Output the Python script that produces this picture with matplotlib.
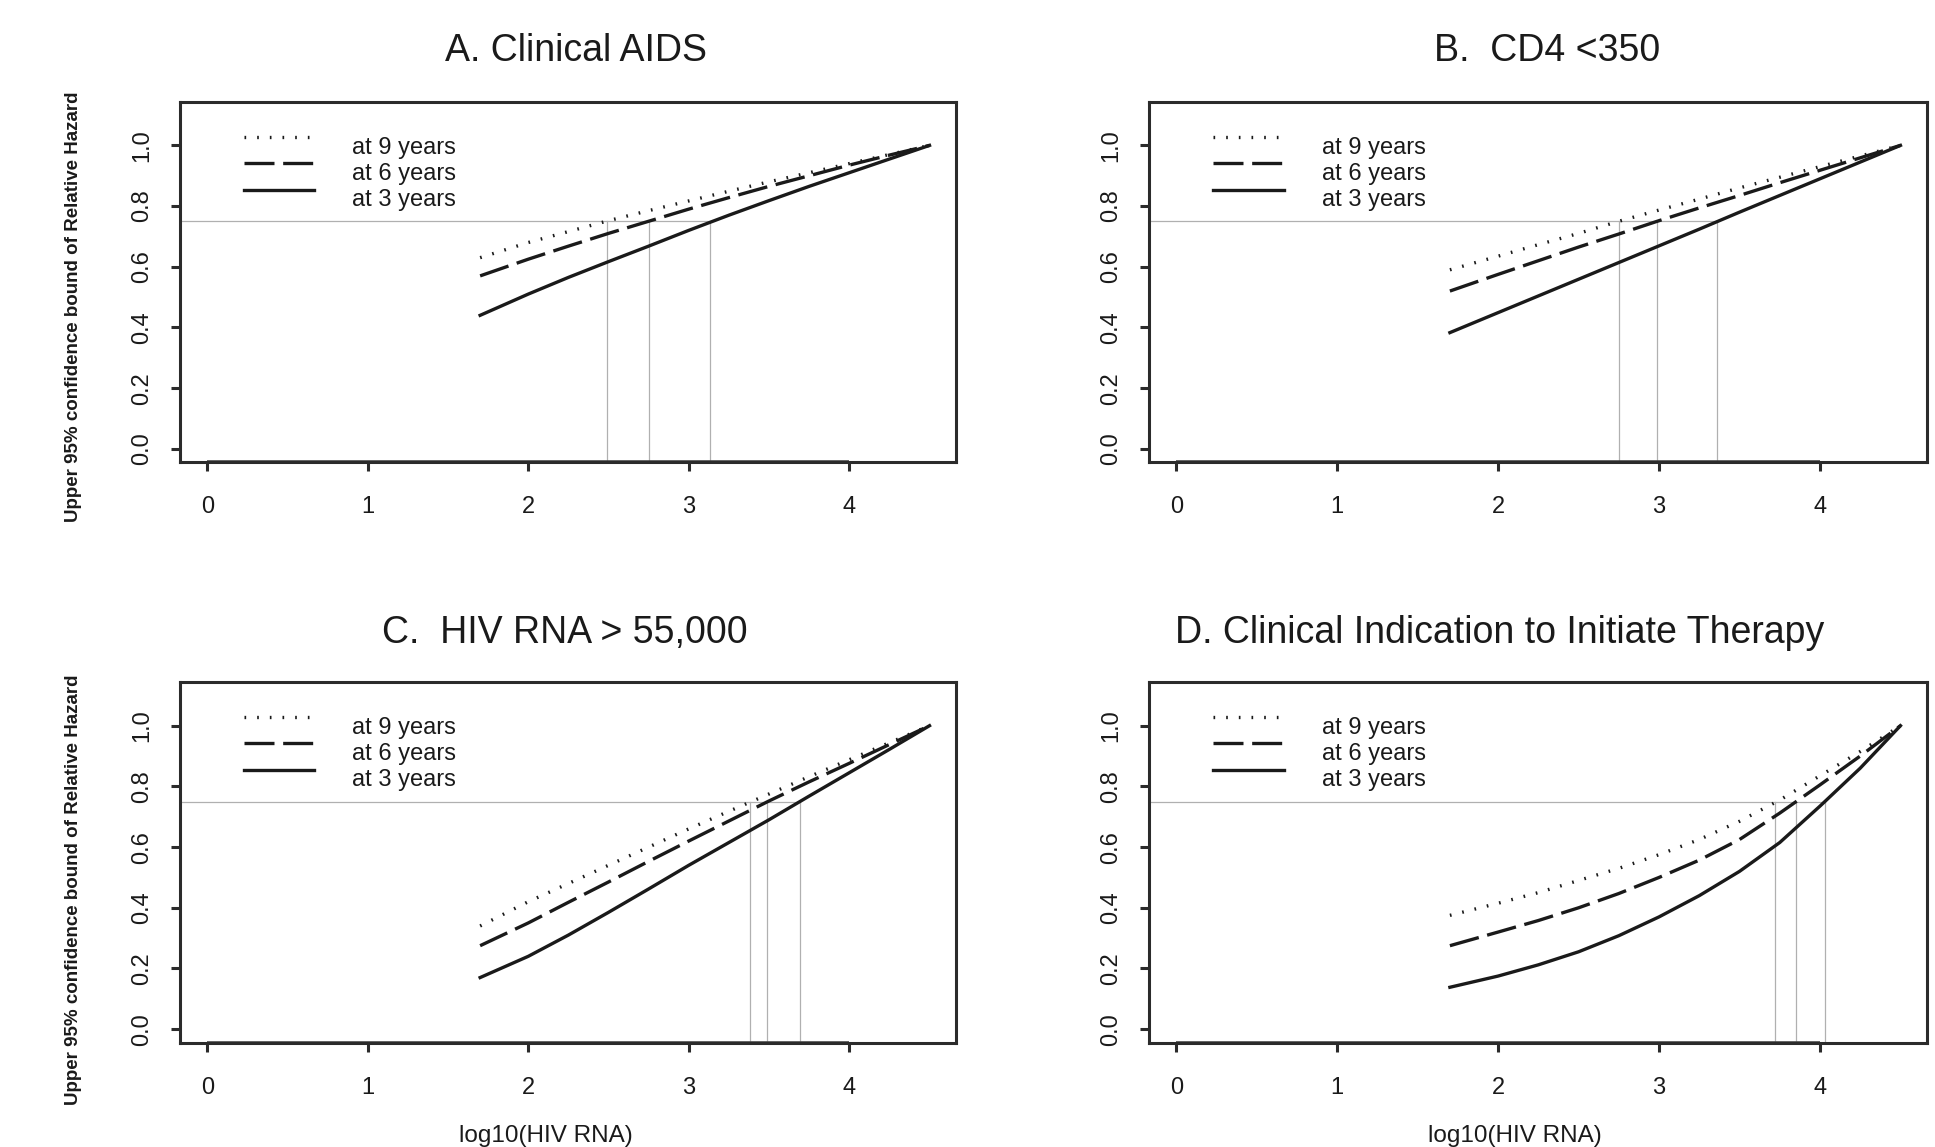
"""Upper 95% bound of relative hazard vs log10(HIV RNA), four panels.
"""
import numpy as np
import matplotlib.pyplot as plt

plt.rcParams["font.family"] = ["Liberation Sans", "DejaVu Sans"]

#### Data.
x_rna = [1.7, 2.0, 2.25, 2.5, 2.75, 3.0, 3.25, 3.5, 3.75, 4.0, 4.25, 4.5]

titles = ["A. Clinical AIDS", "B.  CD4 <350",
          "C.  HIV RNA > 55,000", "D. Clinical Indication to Initiate Therapy"]

# at 9 years (dotted)
yr9_a = [0.63, 0.68, 0.716, 0.752, 0.785, 0.817, 0.849, 0.88, 0.91, 0.94, 0.97, 1.0]
yr9_b = [0.59, 0.635, 0.673, 0.71, 0.75, 0.787, 0.823, 0.86, 0.895, 0.93, 0.965, 1.0]
yr9_c = [0.34, 0.42, 0.48, 0.54, 0.60, 0.66, 0.718, 0.775, 0.832, 0.888, 0.944, 1.0]
yr9_d = [0.375, 0.415, 0.45, 0.49, 0.53, 0.575, 0.625, 0.685, 0.755, 0.835, 0.915, 1.0]

# at 6 years (dashed)
yr6_a = [0.57, 0.625, 0.668, 0.71, 0.75, 0.79, 0.828, 0.865, 0.9, 0.935, 0.968, 1.0]
yr6_b = [0.52, 0.575, 0.62, 0.665, 0.708, 0.752, 0.794, 0.835, 0.877, 0.918, 0.959, 1.0]
yr6_c = [0.275, 0.35, 0.418, 0.485, 0.553, 0.62, 0.686, 0.752, 0.815, 0.876, 0.938, 1.0]
yr6_d = [0.275, 0.32, 0.358, 0.40, 0.447, 0.50, 0.557, 0.625, 0.712, 0.805, 0.9, 1.0]

# at 3 years (solid)
yr3_a = [0.44, 0.51, 0.565, 0.617, 0.668, 0.72, 0.77, 0.818, 0.865, 0.91, 0.955, 1.0]
yr3_b = [0.383, 0.449, 0.504, 0.559, 0.614, 0.669, 0.724, 0.78, 0.835, 0.89, 0.945, 1.0]
yr3_c = [0.17, 0.24, 0.31, 0.385, 0.462, 0.54, 0.615, 0.69, 0.768, 0.845, 0.922, 1.0]
yr3_d = [0.138, 0.175, 0.212, 0.255, 0.308, 0.37, 0.44, 0.52, 0.615, 0.735, 0.86, 1.0]

# where each curve crosses the 0.75 reference (9y, 6y, 3y)
cross_a = [2.49, 2.75, 3.13]
cross_b = [2.75, 2.99, 3.36]
cross_c = [3.38, 3.49, 3.69]
cross_d = [3.72, 3.85, 4.03]

ref_level = 0.75
legend_labels = ["at 9 years", "at 6 years", "at 3 years"]
ylabel = "Upper 95% confidence bound of Relative Hazard"
xlabel = "log10(HIV RNA)"

#### Parameters.
W, H = 1935, 1147
FRAME = "#2b2b2b"
INK = "#1a1a1a"
GREY = "#b0b0b0"
LW = 2.4
STYLES = [dict(linestyle=(0, (0.5, 3.3)), dash_capstyle="butt"),
          dict(linestyle=(0, (9, 2.6)), dash_capstyle="butt"),
          dict(linestyle="-")]
XLIM = (-0.17, 4.665)
YLIM = (-0.044, 1.144)

panels = [
    (titles[0], [yr9_a, yr6_a, yr3_a], cross_a),
    (titles[1], [yr9_b, yr6_b, yr3_b], cross_b),
    (titles[2], [yr9_c, yr6_c, yr3_c], cross_c),
    (titles[3], [yr9_d, yr6_d, yr3_d], cross_d),
]
# axes boxes in pixels: left, top, width
boxes = [(180, 101.7, 776), (1149, 101.7, 778), (180, 682, 776), (1149, 682, 778)]
box_h = 360.5
title_pos = [(576, 51), (1547, 51), (565, 633), (1500, 633)]

fig = plt.figure(figsize=(W / 100, H / 100), dpi=100)

for i, (title, curves, cross) in enumerate(panels):
    left, top, box_w = boxes[i]
    ax = fig.add_axes([left / W, 1 - (top + box_h) / H, box_w / W, box_h / H])

    # reference lines
    ax.plot([XLIM[0], max(cross)], [ref_level, ref_level], color=GREY, lw=0.9)
    for xc in cross:
        ax.plot([xc, xc], [YLIM[0], ref_level], color=GREY, lw=0.9)

    # curves
    for yvals, st in zip(curves, STYLES):
        ax.plot(x_rna, yvals, color=INK, lw=LW, **st)

    # legend drawn by hand (R style)
    line_y = [0.902, 0.830, 0.755]
    text_y = [0.855, 0.783, 0.712]
    for st, ly, ty, lab in zip(STYLES, line_y, text_y, legend_labels):
        ax.plot([0.082, 0.173], [ly, ly], transform=ax.transAxes,
                color=INK, lw=LW, **st)
        ax.text(0.222, ty, lab, transform=ax.transAxes, fontsize=17,
                va="baseline", ha="left", color=INK)

    # aesthetics
    ax.set_xlim(*XLIM)
    ax.set_ylim(*YLIM)
    ax.set_xticks([0, 1, 2, 3, 4])
    ax.set_yticks([0.0, 0.2, 0.4, 0.6, 0.8, 1.0])
    ax.set_yticklabels(["0.0", "0.2", "0.4", "0.6", "0.8", "1.0"])
    for sp in ax.spines.values():
        sp.set_linewidth(2.2)
        sp.set_color(FRAME)
    ax.tick_params(axis="both", direction="out", length=6.5, width=2.2,
                   color=FRAME, labelsize=17, labelcolor=INK)
    ax.tick_params(axis="x", pad=18)
    ax.tick_params(axis="y", pad=13)
    plt.setp(ax.get_yticklabels(), rotation=90, va="center", ha="right")
    # axis line along the ticks, as R draws it
    ax.plot([0, 4], [0, 0], transform=ax.get_xaxis_transform(),
            color="#444444", lw=2.6, clip_on=False, solid_capstyle="butt")

    tx, ty = title_pos[i]
    fig.text(tx / W, 1 - ty / H, title, fontsize=27, ha="center", va="center",
             color=INK)

# y labels on the left panels
for ycen in (307, 890):
    fig.text(74 / W, 1 - ycen / H, ylabel, rotation=90, fontsize=13.5,
             fontweight="bold", ha="center", va="center", color=INK)

# x labels on the bottom panels
for xcen in (546, 1515):
    fig.text(xcen / W, 1 - 1142 / H, xlabel, fontsize=17.5,
             ha="center", va="baseline", color=INK)

#### Export
fig.savefig("out.png", dpi=100)
plt.close(fig)
